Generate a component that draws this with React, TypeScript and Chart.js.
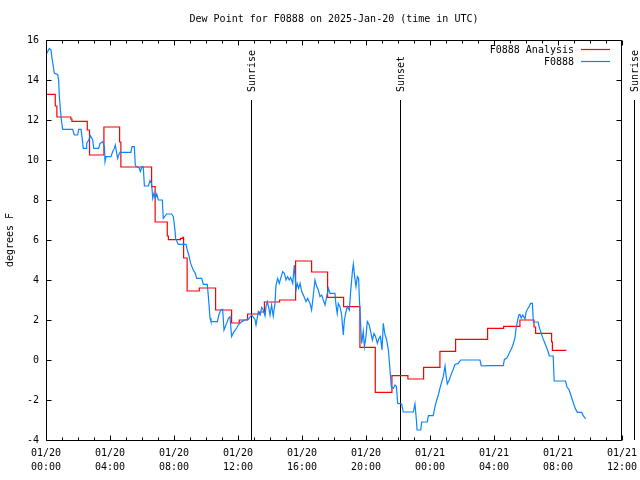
import React, { useEffect, useRef } from 'react';
import { Chart, registerables } from 'chart.js';

Chart.register(...registerables);

const TITLE = 'Dew Point for F0888 on 2025-Jan-20 (time in UTC)';
const Y_LABEL = 'degrees F';
const SERIES_NAMES = ['F0888 Analysis', 'F0888'];
const SERIES_COLORS = ['#ff0000', '#0a84ff'];
const X_TICK_DATES = ['01/20', '01/20', '01/20', '01/20', '01/20', '01/20', '01/21', '01/21', '01/21', '01/21'];
const X_TICK_TIMES = ['00:00', '04:00', '08:00', '12:00', '16:00', '20:00', '00:00', '04:00', '08:00', '12:00'];
const X_MIN = 0;
const X_MAX = 36;
const X_STEP = 4;
const Y_MIN = -4;
const Y_MAX = 16;
const Y_STEP = 2;
const SUN_EVENTS = ['Sunrise', 'Sunset', 'Sunrise'];
const SUN_HOURS = [12.81, 22.1, 36.75];

// hours since 2025-01-20 00:00 UTC
const analysisHours = [
  0, 0.58, 0.68, 1.55, 1.62, 2.58, 2.72, 3.62, 4.6, 4.68,
  6.6, 6.82, 7.58, 7.65, 8.4, 8.55, 8.6, 8.82, 9.58, 10.6,
  11.6, 12.08, 12.6, 13.35, 13.65, 14.6, 15.6, 16.6, 17.6, 18.6,
  19.62, 20.58, 21.62, 22.62, 23.6, 24.62, 25.6, 27.6, 28.6, 29.62,
  30.5, 30.6, 31.6, 31.65, 32.52,
];
const analysisValues = [
  13.28, 12.7, 12.15, 12.05, 11.93, 11.5, 10.25, 11.65, 10.9, 9.65,
  8.67, 6.9, 6.2, 6.02, 6.08, 6.13, 5.1, 3.45, 3.6, 2.5,
  1.85, 2.0, 2.3, 2.4, 2.9, 3.0, 4.95, 4.4, 3.13, 2.67,
  0.63, -1.62, -0.78, -0.95, -0.37, 0.43, 1.03, 1.58, 1.68, 2.0,
  1.65, 1.33, 0.9, 0.48, 0.48,
];

const obsHours = [
  0, 0.1, 0.21, 0.31, 0.375, 0.46, 0.52, 0.73, 0.79, 0.83,
  0.9, 0.96, 1.04, 1.67, 1.77, 1.98, 2.04, 2.19, 2.25, 2.33,
  2.5, 2.54, 2.67, 2.77, 2.92, 2.98, 3.29, 3.375, 3.54, 3.65,
  3.69, 3.75, 4.06, 4.17, 4.27, 4.33, 4.42, 4.48, 4.54, 4.625,
  5.31, 5.375, 5.52, 5.58, 5.625, 5.83, 5.9, 6.0, 6.08, 6.15,
  6.4, 6.5, 6.6, 6.67, 6.75, 6.83, 6.92, 7.02, 7.27, 7.33,
  7.54, 7.85, 7.96, 8.06, 8.1, 8.27, 8.75, 8.83, 8.94, 9.04,
  9.2, 9.31, 9.42, 9.73, 9.83, 10.08, 10.15, 10.25, 10.31, 10.71,
  10.8, 10.92, 11.04, 11.125, 11.29, 11.4, 11.5, 11.6, 11.75, 11.92,
  12.02, 12.23, 12.44, 12.65, 12.85, 13.06, 13.125, 13.27, 13.38, 13.48,
  13.58, 13.69, 13.75, 13.83, 13.92, 14.0, 14.1, 14.2, 14.31, 14.375,
  14.48, 14.58, 14.67, 14.79, 14.9, 15.0, 15.1, 15.2, 15.29, 15.42,
  15.52, 15.625, 15.7, 15.79, 15.88, 15.98, 16.125, 16.25, 16.35, 16.5,
  16.6, 16.71, 16.81, 16.92, 17.02, 17.125, 17.23, 17.33, 17.44, 17.54,
  17.65, 17.75, 18.06, 18.125, 18.2, 18.27, 18.375, 18.48, 18.58, 18.65,
  18.75, 18.83, 18.96, 19.04, 19.15, 19.21, 19.29, 19.375, 19.46, 19.54,
  19.58, 19.67, 19.73, 19.83, 19.9, 20.0, 20.08, 20.2, 20.29, 20.4,
  20.5, 20.6, 20.71, 20.81, 20.9, 21.0, 21.08, 21.17, 21.29, 21.4,
  21.5, 21.58, 21.71, 21.81, 21.9, 21.98, 22.23, 22.33, 22.96, 23.06,
  23.15, 23.19, 23.42, 23.48, 23.83, 23.9, 24.2, 24.31, 24.42, 24.52,
  24.625, 24.73, 24.83, 24.94, 25.0, 25.08, 25.2, 25.35, 25.46, 25.56,
  25.77, 25.92, 27.125, 27.2, 27.44, 27.5, 28.58, 28.65, 28.8, 28.9,
  29.0, 29.1, 29.2, 29.31, 29.375, 29.46, 29.55, 29.62, 29.7, 29.8,
  29.94, 30.0, 30.08, 30.21, 30.29, 30.4, 30.46, 30.75, 30.85, 30.95,
  31.06, 31.15, 31.25, 31.37, 31.46, 31.7, 31.76, 32.47, 32.56, 32.7,
  32.8, 32.9, 32.98, 33.08, 33.21, 33.48, 33.58, 33.73,
];
const obsValues = [
  15.25, 15.42, 15.58, 15.5, 15.08, 14.67, 14.33, 14.28, 14.0, 13.25,
  12.5, 12.0, 11.53, 11.53, 11.25, 11.25, 11.53, 11.53, 11.17, 10.58,
  10.58, 10.83, 11.0, 11.22, 11.0, 10.58, 10.58, 10.83, 10.92, 10.67,
  9.92, 10.17, 10.17, 10.42, 10.58, 10.75, 10.33, 10.08, 10.25, 10.38,
  10.38, 10.67, 10.67, 9.75, 9.68, 9.6, 9.42, 9.67, 9.65, 8.7,
  8.7, 8.97, 8.83, 8.08, 8.33, 8.1, 8.3, 8.0, 8.0, 7.08,
  7.3, 7.3, 7.17, 6.5, 6.08, 5.78, 5.78, 5.5, 5.2, 4.83,
  4.5, 4.37, 4.08, 4.08, 3.78, 3.78, 3.17, 2.1, 1.92, 1.92,
  2.25, 2.5, 2.53, 1.5, 1.83, 2.08, 2.17, 1.17, 1.42, 1.6,
  1.75, 1.92, 2.0, 2.03, 2.25, 2.03, 1.75, 2.42, 2.25, 2.63,
  2.5, 2.2, 2.67, 2.92, 2.63, 2.25, 2.75, 2.2, 2.83, 3.75,
  4.08, 3.83, 4.08, 4.42, 4.33, 4.0, 4.17, 4.0, 4.13, 3.83,
  4.75, 3.5, 3.83, 3.58, 3.83, 3.42, 3.17, 2.92, 3.08, 2.83,
  2.5, 3.25, 4.0, 3.67, 3.5, 3.17, 3.25, 3.0, 2.75, 3.17,
  3.58, 3.33, 3.33, 2.75, 2.33, 2.83, 2.67, 2.25, 1.25, 2.0,
  2.42, 2.67, 2.5, 3.42, 4.42, 4.8, 4.17, 3.67, 4.17, 4.08,
  3.17, 1.67, 0.83, 1.42, 0.67, 1.17, 1.92, 1.75, 1.42, 1.0,
  1.33, 1.17, 0.83, 1.08, 1.17, 0.5, 1.83, 1.33, 1.0, 0.5,
  -0.5, -1.33, -1.42, -1.25, -1.33, -2.17, -2.2, -2.6, -2.6, -2.2,
  -3.0, -3.5, -3.5, -3.1, -3.1, -2.78, -2.78, -2.33, -2.0, -1.75,
  -1.4, -1.1, -0.83, -0.3, -0.75, -1.2, -1.0, -0.67, -0.45, -0.22,
  -0.17, 0.0, 0.0, -0.28, -0.3, -0.28, -0.28, 0.03, 0.1, 0.25,
  0.42, 0.58, 0.8, 1.1, 1.55, 1.92, 2.25, 2.28, 2.1, 2.25,
  2.05, 2.37, 2.53, 2.7, 2.83, 2.83, 1.9, 1.9, 1.58, 1.33,
  1.08, 0.9, 0.7, 0.45, 0.2, 0.2, -1.05, -1.05, -1.35, -1.5,
  -1.75, -2.0, -2.2, -2.42, -2.62, -2.62, -2.78, -2.95,
];

const FONT_FAMILY = '"DejaVu Sans Mono", "Liberation Mono", monospace';
const FONT = `10px ${FONT_FAMILY}`;

const decorPlugin = {
  id: 'decor',
  beforeDatasetsDraw(chart: any) {
    const { ctx, chartArea: a, scales } = chart;
    const x = scales.x;
    ctx.save();
    ctx.strokeStyle = '#000';
    ctx.fillStyle = '#000';
    ctx.lineWidth = 1;
    ctx.font = FONT;
    SUN_HOURS.forEach((h, i) => {
      const px = Math.round(x.getPixelForValue(h)) + 0.5;
      ctx.beginPath();
      ctx.moveTo(px, a.top + 60);
      ctx.lineTo(px, a.bottom);
      ctx.stroke();
      ctx.save();
      ctx.translate(px + 1, a.top + 52);
      ctx.rotate(-Math.PI / 2);
      ctx.textAlign = 'left';
      ctx.textBaseline = 'middle';
      ctx.fillText(SUN_EVENTS[i], 0, 0);
      ctx.restore();
    });
    ctx.restore();
  },
  afterDraw(chart: any) {
    const { ctx, chartArea: a, scales } = chart;
    const x = scales.x;
    const y = scales.y;
    ctx.save();
    ctx.strokeStyle = '#000';
    ctx.fillStyle = '#000';
    ctx.lineWidth = 1;
    const L = a.left + 0.5;
    const R = a.right - 0.5;
    const T = a.top + 0.5;
    const B = a.bottom + 0.5;
    ctx.beginPath();
    ctx.rect(L, T, R - L, B - T);
    ctx.stroke();
    ctx.beginPath();
    for (let h = X_MIN; h <= X_MAX; h += 1) {
      const px = Math.round(x.getPixelForValue(h)) + 0.5;
      const len = h % X_STEP === 0 ? 5 : 3;
      ctx.moveTo(px, B);
      ctx.lineTo(px, B - len);
      ctx.moveTo(px, T);
      ctx.lineTo(px, T + len);
    }
    y.ticks.forEach((t: any) => {
      const py = Math.round(y.getPixelForValue(t.value)) + 0.5;
      ctx.moveTo(L, py);
      ctx.lineTo(L + 5, py);
      ctx.moveTo(R, py);
      ctx.lineTo(R - 5, py);
    });
    ctx.stroke();
    ctx.font = FONT;
    ctx.textAlign = 'center';
    ctx.textBaseline = 'middle';
    ctx.fillText(TITLE, (a.left + a.right) / 2, 19);
    ctx.textAlign = 'right';
    SERIES_NAMES.forEach((name, i) => {
      const ly = 50 + i * 12;
      ctx.fillStyle = '#000';
      ctx.fillText(name, 574, ly);
      ctx.strokeStyle = SERIES_COLORS[i];
      ctx.lineWidth = 1.2;
      ctx.beginPath();
      ctx.moveTo(581, ly - 0.5);
      ctx.lineTo(610, ly - 0.5);
      ctx.stroke();
    });
    ctx.restore();
  },
};

export default function App() {
  const canvasRef = useRef<HTMLCanvasElement | null>(null);

  useEffect(() => {
    document.body.style.margin = '0';
    const canvas = canvasRef.current;
    if (!canvas) return;
    Chart.defaults.font.family = FONT_FAMILY;
    Chart.defaults.font.size = 10;
    Chart.defaults.color = '#000';

    const analysisData = analysisHours.map((h, i) => ({ x: h, y: analysisValues[i] }));
    const obsData = obsHours.map((h, i) => ({ x: h, y: obsValues[i] }));

    const chart = new Chart(canvas, {
      type: 'line',
      data: {
        datasets: [
          {
            label: SERIES_NAMES[0],
            data: analysisData,
            borderColor: SERIES_COLORS[0],
            backgroundColor: SERIES_COLORS[0],
            borderWidth: 1.2,
            pointRadius: 0,
            stepped: true,
            order: 1,
          },
          {
            label: SERIES_NAMES[1],
            data: obsData,
            borderColor: SERIES_COLORS[1],
            backgroundColor: SERIES_COLORS[1],
            borderWidth: 1.2,
            pointRadius: 0,
            tension: 0,
            order: 0,
          },
        ],
      },
      options: {
        responsive: false,
        animation: false,
        devicePixelRatio: 1,
        layout: { padding: { top: 40, right: 18, left: 0, bottom: 0 } },
        plugins: {
          legend: { display: false },
          tooltip: { enabled: false },
          title: { display: false },
        },
        scales: {
          x: {
            type: 'linear',
            min: X_MIN,
            max: X_MAX,
            grid: { display: false, drawTicks: false },
            border: { display: false },
            afterFit: (s: any) => {
              s.height = 40;
              s.paddingLeft = 0;
              s.paddingRight = 0;
            },
            ticks: {
              stepSize: X_STEP,
              autoSkip: false,
              maxRotation: 0,
              padding: 7,
              color: '#000',
              font: { family: FONT_FAMILY, size: 10, lineHeight: 1.35 },
              callback: (value: any) => {
                const idx = Math.round((Number(value) - X_MIN) / X_STEP);
                return [X_TICK_DATES[idx], X_TICK_TIMES[idx]];
              },
            },
          },
          y: {
            type: 'linear',
            min: Y_MIN,
            max: Y_MAX,
            grid: { display: false, drawTicks: false },
            border: { display: false },
            afterFit: (s: any) => {
              s.width = 46;
              s.paddingTop = 0;
              s.paddingBottom = 0;
            },
            title: {
              display: true,
              text: Y_LABEL,
              color: '#000',
              font: { family: FONT_FAMILY, size: 10 },
              padding: { top: 4, bottom: 0 },
            },
            ticks: {
              stepSize: Y_STEP,
              padding: 7,
              color: '#000',
              font: { family: FONT_FAMILY, size: 10 },
            },
          },
        },
      },
      plugins: [decorPlugin],
    });

    return () => {
      chart.destroy();
    };
  }, []);

  return (
    <div style={{ position: 'absolute', left: 0, top: 0, width: 640, height: 480, background: '#fff' }}>
      <canvas ref={canvasRef} width={640} height={480} />
    </div>
  );
}
